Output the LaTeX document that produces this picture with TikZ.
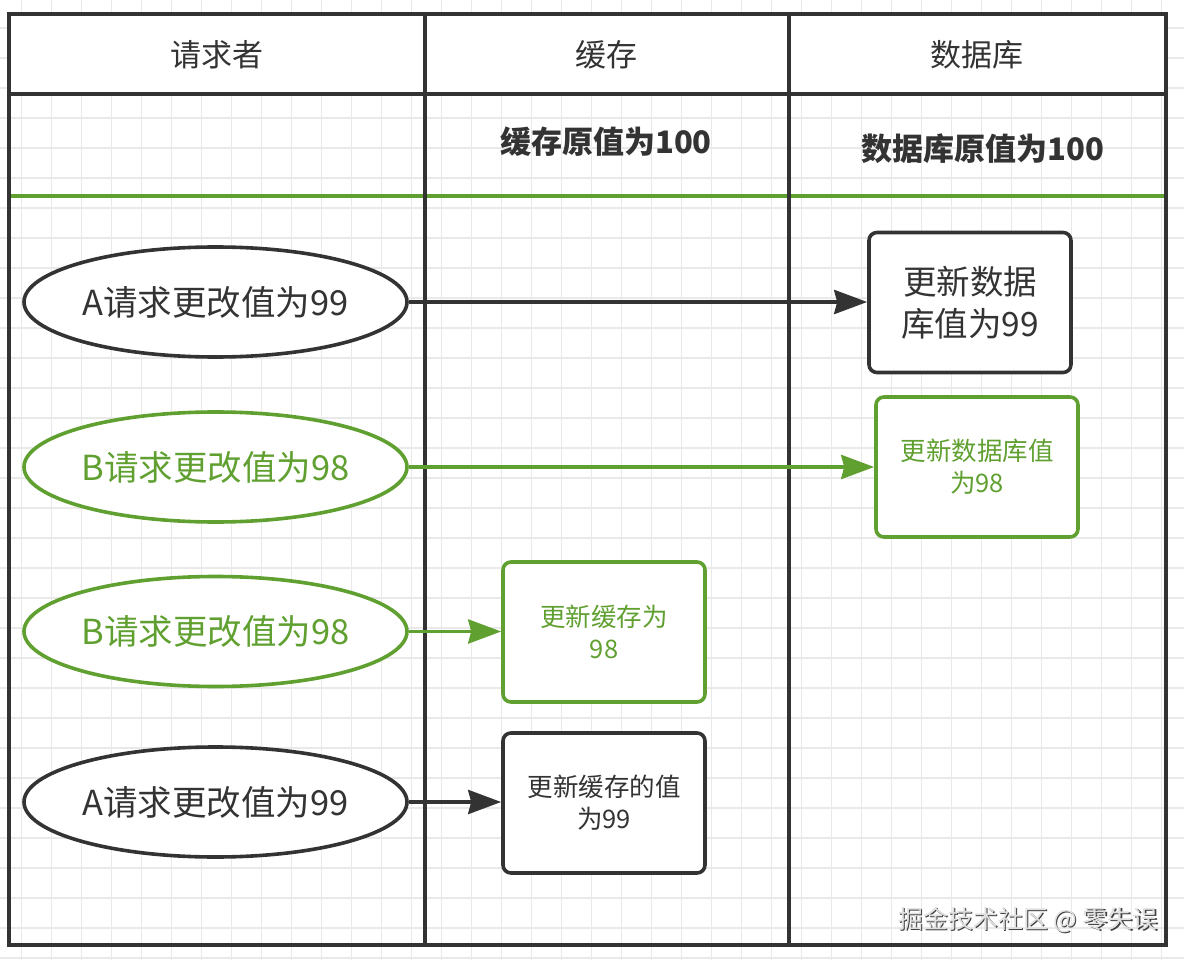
\documentclass[tikz,border=0pt]{standalone}
\usepackage{fontspec}
\setmainfont{Noto Sans CJK SC}
\usetikzlibrary{shapes.geometric,arrows.meta}
\definecolor{dk}{HTML}{333333}
\definecolor{gr}{HTML}{60A030}
\definecolor{gridc}{HTML}{E9E9E9}
\begin{document}
\begin{tikzpicture}[x=1pt,y=-1pt,
  gridline/.style={gridc,line width=1.3pt},
  frame/.style={dk,line width=3.6pt},
  hdr/.style={font=\fontsize{31}{36}\selectfont,text=dk},
  bld/.style={font=\bfseries\fontsize{31}{36}\selectfont,text=dk},
  ell/.style={ellipse,draw,fill=white,line width=3.6pt,minimum width=383pt,minimum height=110pt,inner sep=0pt,font=\fontsize{34.5}{40}\selectfont},
  ellk/.style={ell,draw=dk,text=dk},
  ellg/.style={ell,draw=gr,text=gr},
  bx/.style={draw,fill=white,rounded corners=8pt,line width=3.6pt,minimum width=202pt,minimum height=140pt,inner sep=0pt,align=center},
  bxk/.style={bx,draw=dk,text=dk,font=\fontsize{33.5}{42}\selectfont},
  bxks/.style={bx,draw=dk,text=dk,font=\fontsize{25.5}{32}\selectfont},
  bxg/.style={bx,draw=gr,text=gr,font=\fontsize{25.5}{32}\selectfont},
  arrk/.style={dk,line width=3.8pt,-{Stealth[length=33pt,width=24pt,inset=3pt]}},
  arrg/.style={gr,line width=3.8pt,-{Stealth[length=33pt,width=24pt,inset=3pt]}},
  wm/.style={font=\fontsize{25}{28}\selectfont}
]
\useasboundingbox (0,0) rectangle (1184,960);
\fill[white] (0,0) rectangle (1184,960);
% grid
\foreach \i in {0,...,38} \draw[gridline] (21.7+30*\i,0) -- (21.7+30*\i,960);
\foreach \j in {0,...,31} \draw[gridline] (0,28+30*\j) -- (1184,28+30*\j);
% header background
\fill[white] (9,14) rectangle (1166,94);
% green separator
\draw[gr,line width=3.2pt] (9,196) -- (1166,196);
% frame and columns
\draw[frame] (9,14) rectangle (1166,945);
\draw[frame] (9,94) -- (1166,94);
\draw[frame] (425,14) -- (425,945);
\draw[frame] (789,14) -- (789,945);
% headers
\node[hdr] (h1) at (217,55) {请求者};
\node[hdr] (h2) at (606,55) {缓存};
\node[hdr] (h3) at (977,55) {数据库};
\node[bld] (v1) at (606,142) {缓存原值为100};
\node[bld] (v2) at (983,149) {数据库原值为100};
% requesters
\node[ellk] (e1) at (215.5,302) {A请求更改值为99};
\node[ellg] (e2) at (215.5,467) {B请求更改值为98};
\node[ellg] (e3) at (215.5,631.5) {B请求更改值为98};
\node[ellk] (e4) at (215.5,802) {A请求更改值为99};
% targets
\node[bxk] (d1) at (970,302.5) {更新数据\\库值为99};
\node[bxg] (d2) at (977,467) {更新数据库值\\为98};
\node[bxg] (c1) at (604,632) {更新缓存为\\98};
\node[bxks] (c2) at (604,803) {更新缓存的值\\为99};
% connectors
\draw[arrk] (e1.east) -- (e1.east -| d1.west);
\draw[arrg] (e2.east) -- (e2.east -| d2.west);
\draw[arrg] (e3.east) -- (e3.east -| c1.west);
\draw[arrk] (e4.east) -- (e4.east -| c2.west);
% watermark
\node[wm,text=black!75] (wms) at (1029.2,921.2) {掘金技术社区 @ 零失误};
\node[wm,text=black!12] (wmt) at (1028,920) {掘金技术社区 @ 零失误};
\end{tikzpicture}
\end{document}
